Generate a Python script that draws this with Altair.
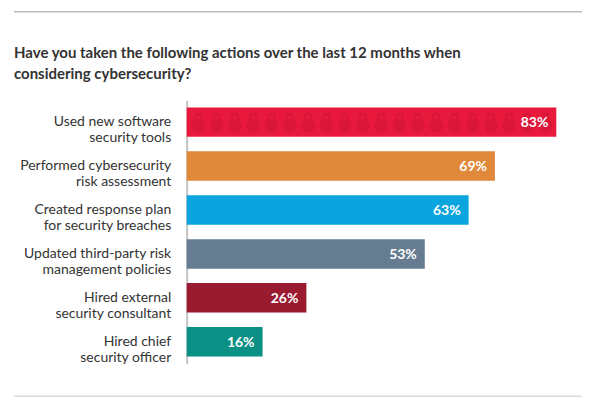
import altair as alt
import pandas as pd

categories = [
    "Used new software\nsecurity tools",
    "Performed cybersecurity\nrisk assessment",
    "Created response plan\nfor security breaches",
    "Updated third-party risk\nmanagement policies",
    "Hired external\nsecurity consultant",
    "Hired chief\nsecurity officer",
]
values = [83, 69, 63, 53, 26, 16]
colors = ["#E8193C", "#E0893A", "#0AA5DE", "#667C91", "#9A1B30", "#0A9085"]
title_text = "Have you taken the following actions over the last 12 months when\nconsidering cybersecurity?"

df = pd.DataFrame({"action": categories, "pct": values, "color": colors})
df["label"] = df["pct"].astype(str) + "%"

FONT = "Lato"
X_MIN = -1.3

y_enc = alt.Y(
    "action:N",
    sort=None,
    scale=alt.Scale(paddingInner=0.33, paddingOuter=0.165),
    axis=alt.Axis(
        title=None,
        ticks=False,
        domainColor="#c4c4c4",
        domainWidth=2,
        labelPadding=16,
        labelFont=FONT,
        labelFontSize=14,
        labelColor="#333333",
        labelLimit=0,
        labelLineHeight=16,
        labelExpr="split(datum.label, '\\n')",
    ),
)
x_scale = alt.Scale(domain=[X_MIN, 90])

base = alt.Chart(df)

bars = base.mark_bar().encode(
    y=y_enc,
    x=alt.X("pct:Q", scale=x_scale, axis=None),
    x2=alt.datum(X_MIN),
    color=alt.Color("color:N", scale=None, legend=None),
)

# padlock pattern on the first bar (decoration)
LOCK = (
    "M -0.65 0.35 A 0.65 0.65 0 1 0 0.65 0.35 A 0.65 0.65 0 1 0 -0.65 0.35 Z "
    "M -0.42 -0.2 L -0.42 -0.5 A 0.42 0.42 0 0 1 0.42 -0.5 L 0.42 -0.2 "
    "L 0.2 -0.2 L 0.2 -0.5 A 0.2 0.2 0 0 0 -0.2 -0.5 L -0.2 -0.2 Z"
)
locks = (
    alt.Chart(alt.sequence(start=0, stop=20, step=1, as_="i"))
    .transform_calculate(lx=f"{X_MIN} + 2.67 + 4.17 * datum.i")
    .transform_filter(f"datum.lx <= {values[0]} - 1.5")
    .mark_point(shape=LOCK, filled=True, size=420, color="#D9163A", opacity=1)
    .encode(
        x=alt.X("lx:Q", scale=x_scale),
        y=alt.datum(categories[0]),
    )
)

labels = base.mark_text(
    align="right", baseline="middle", dx=-8, dy=1,
    font=FONT, fontSize=14, fontWeight="bold", color="white",
).encode(
    y=alt.Y("action:N", sort=None),
    x=alt.X("pct:Q", scale=x_scale),
    text="label:N",
)

one = alt.Chart(pd.DataFrame({"k": [0]}))
top_rule = one.mark_rule(color="#9a9a9a", strokeWidth=1).encode(
    x=alt.value(-173), x2=alt.value(396), y=alt.value(-88.5)
)
bottom_rule = one.mark_rule(color="#c8c8c8", strokeWidth=1).encode(
    x=alt.value(-173), x2=alt.value(396), y=alt.value(296.5)
)
title = one.mark_text(
    align="left", baseline="alphabetic", lineBreak="\n", lineHeight=21,
    font=FONT, fontSize=15, fontWeight="bold", color="#333333",
).encode(x=alt.value(-173), y=alt.value(-42), text=alt.value(title_text))

chart = alt.layer(bars, locks, labels, top_rule, bottom_rule, title).properties(
    width=401,
    height=264,
    padding={"left": 179, "top": 92, "right": 5, "bottom": 34},
    autosize=alt.AutoSizeParams(type="none"),
).configure_view(stroke=None)

chart.save("out.html", embed_options={"renderer": "svg", "actions": False})
